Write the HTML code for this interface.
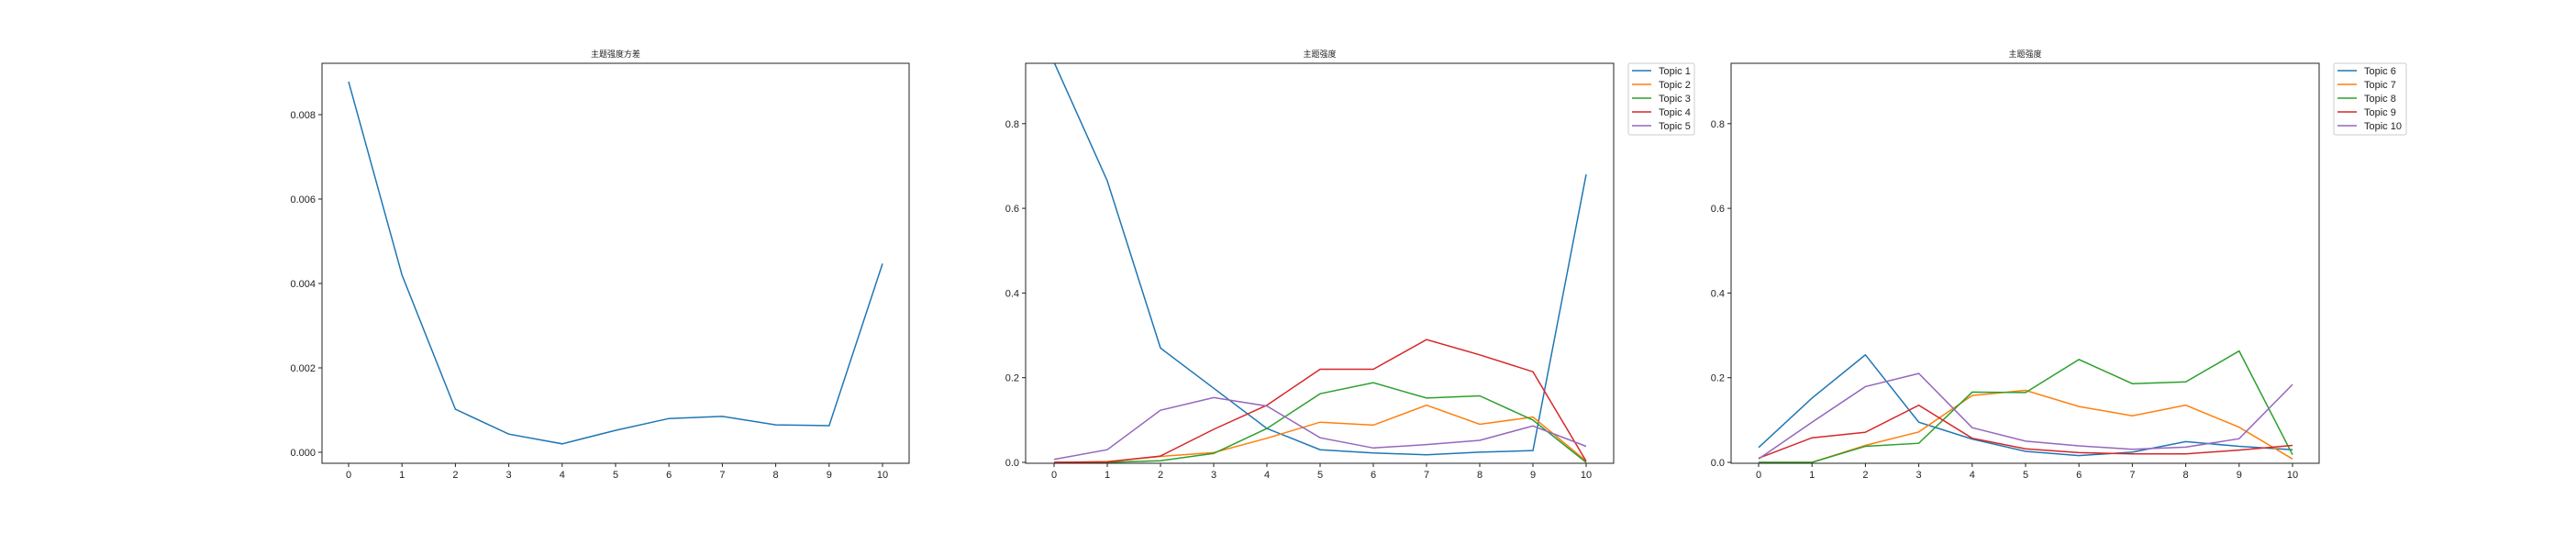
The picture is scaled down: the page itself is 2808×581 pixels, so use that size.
<!DOCTYPE html>
<html><head><meta charset="utf-8"><style>
html,body{margin:0;padding:0;background:#fff;}
svg text{font-family:"Liberation Sans","Noto Sans CJK SC",sans-serif;fill:#222;}
</style></head><body>
<svg id="svg" width="2808" height="576" xmlns="http://www.w3.org/2000/svg"></svg>
<script>
const categories=[0,1,2,3,4,5,6,7,8,9,10];
const varianceValues=[0.00878,0.0042,0.00102,0.00043,0.0002,0.00052,0.0008,0.00085,0.00065,0.00063,0.00447];
const varianceTicks=[0,0.002,0.004,0.006,0.008];
const varianceTickLabels=["0.000","0.002","0.004","0.006","0.008"];
const topic1=[0.945,0.665,0.27,0.175,0.08,0.03,0.022,0.018,0.024,0.028,0.68];
const topic2=[0,0.002,0.014,0.023,0.057,0.095,0.088,0.135,0.09,0.107,0.003];
const topic3=[0,0,0.004,0.021,0.08,0.162,0.188,0.152,0.157,0.1,0];
const topic4=[0,0.001,0.015,0.078,0.135,0.22,0.22,0.29,0.254,0.214,0.003];
const topic5=[0.007,0.03,0.123,0.153,0.133,0.058,0.034,0.042,0.052,0.086,0.038];
const topic6=[0.035,0.152,0.254,0.095,0.055,0.026,0.016,0.024,0.049,0.038,0.03];
const topic7=[0,0,0.04,0.072,0.158,0.17,0.132,0.11,0.135,0.083,0.008];
const topic8=[0,0,0.038,0.045,0.166,0.165,0.243,0.186,0.19,0.263,0.018];
const topic9=[0.01,0.058,0.071,0.135,0.057,0.032,0.023,0.02,0.02,0.029,0.04];
const topic10=[0.008,0.095,0.179,0.21,0.082,0.05,0.039,0.031,0.036,0.056,0.184];
const strengthTicks=[0,0.2,0.4,0.6,0.8];
const strengthTickLabels=["0.0","0.2","0.4","0.6","0.8"];
const namesA=["Topic 1","Topic 2","Topic 3","Topic 4","Topic 5"];
const namesB=["Topic 6","Topic 7","Topic 8","Topic 9","Topic 10"];
const colors=["#1f77b4","#ff7f0e","#2ca02c","#d62728","#9467bd"];

const NS="http://www.w3.org/2000/svg";
const svg=document.getElementById('svg');
function mk(tag,attrs,parent){const e=document.createElementNS(NS,tag);for(const k in attrs)e.setAttribute(k,attrs[k]);(parent||svg).appendChild(e);return e;}

function panel(p){
  const g=mk('g',{});
  
  
  const xs=v=>p.x0+(v-0)*(p.x10-p.x0)/10;
  const ys=v=>p.yZero-(v-p.yMin)*p.pxPerUnit;
  const t=mk('text',{x:(p.left+p.right)/2,y:62,'font-size':9,'text-anchor':'middle'},g);
  t.textContent=p.title;
  
  
  p.series.forEach((s,i)=>{
    const d=s.map((v,j)=>(j?'L':'M')+xs(categories[j]).toFixed(1)+','+ys(v).toFixed(1)).join(' ');
    const path=mk('path',{d:d,fill:'none',stroke:colors[i],'stroke-width':1.5,'clip-path':'url(#'+p.clip+')'},g);
    
    
  });
  const cp=mk('clipPath',{id:p.clip},g);
  mk('rect',{x:p.left,y:p.top,width:p.right-p.left,height:p.bottom-p.top},cp);
  const frame=mk('rect',{x:p.left,y:p.top,width:p.right-p.left,height:p.bottom-p.top,fill:'none',stroke:'#222','stroke-width':1},g);
  
  
  categories.forEach(c=>{
    const x=xs(c);
    mk('line',{x1:x,x2:x,y1:p.bottom,y2:p.bottom+4,stroke:'#222'},g);
    const tl=mk('text',{x:x,y:p.bottom+16,'font-size':11,'text-anchor':'middle'},g);
    tl.textContent=c;
    
    
  });
  p.ticks.forEach((v,i)=>{
    const y=ys(v);
    mk('line',{x1:p.left-4,x2:p.left,y1:y,y2:y,stroke:'#222'},g);
    const tl=mk('text',{x:p.left-7,y:y+4,'font-size':11,'text-anchor':'end'},g);
    tl.textContent=p.tickLabels[i];
    
    
  });
  if(p.names){
    const lg=mk('g',{},g);
    
    
    mk('rect',{x:p.legX,y:69,width:p.legW,height:78,rx:2,fill:'#fff',stroke:'#ccc'},lg);
    p.names.forEach((n,i)=>{
      const y=77+i*15;
      const le=mk('g',{},lg);
      
      
      mk('line',{x1:p.legX+4,x2:p.legX+25,y1:y,y2:y,stroke:colors[i],'stroke-width':1.5},le);
      const tx=mk('text',{x:p.legX+33,y:y+4,'font-size':11},le);
      tx.textContent=n;
    });
  }
}
panel({name:'variance-chart',title:'主题强度方差',left:351,right:991,top:69,bottom:505,x0:380,x10:962,yZero:493,yMin:0,pxPerUnit:92/0.002,ticks:varianceTicks,tickLabels:varianceTickLabels,series:[varianceValues],clip:'c1'});
panel({name:'topic-1-5-chart',title:'主题强度',left:1118,right:1759,top:69,bottom:505,x0:1149,x10:1729,yZero:504,yMin:0,pxPerUnit:92.3/0.2,ticks:strengthTicks,tickLabels:strengthTickLabels,series:[topic1,topic2,topic3,topic4,topic5],names:namesA,legX:1775,legW:72,clip:'c2'});
panel({name:'topic-6-10-chart',title:'主题强度',left:1887,right:2528,top:69,bottom:505,x0:1917,x10:2499,yZero:504,yMin:0,pxPerUnit:92.3/0.2,ticks:strengthTicks,tickLabels:strengthTickLabels,series:[topic6,topic7,topic8,topic9,topic10],names:namesB,legX:2544,legW:79,clip:'c3'});
</script>
</body></html>
